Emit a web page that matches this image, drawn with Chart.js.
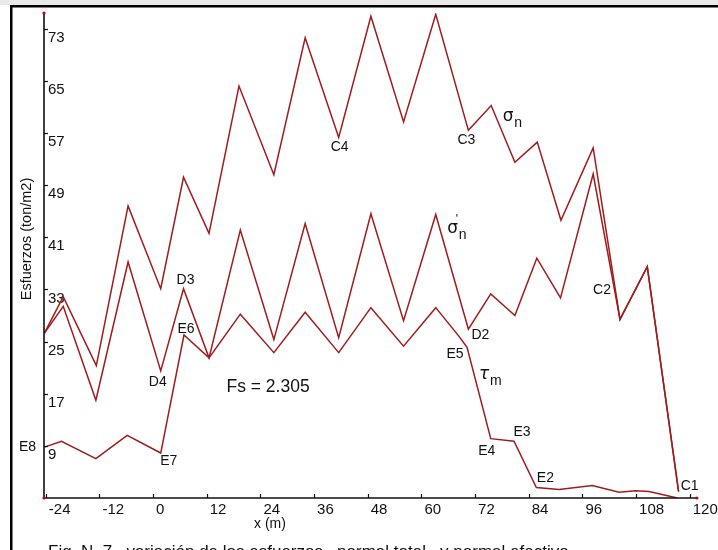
<!DOCTYPE html>
<html><head><meta charset="utf-8">
<script src="https://cdn.jsdelivr.net/npm/chart.js@4.4.1/dist/chart.umd.min.js"></script>
<style>html,body{margin:0;padding:0;background:#fff;overflow:hidden}canvas{display:block}</style>
</head><body>
<canvas id="c" width="718" height="550"></canvas>
<script>
// ---- data ----
const xTicks = [-24, -12, 0, 12, 24, 36, 48, 60, 72, 84, 96, 108, 120];
const yTicks = [9, 17, 25, 33, 41, 49, 57, 65, 73];

const sigmaNX = [-24.3, -20.1, -12.7, -5.6, 1.7, 6.8, 12.5, 19.2, 27.0, 34.0, 41.5, 48.7, 56.0, 63.2, 70.5, 75.6, 80.9, 85.9, 91.2, 98.4, 104.4, 110.5, 117.5];
const sigmaNY = [26.3, 31.9, 21.3, 45.8, 33.1, 50.2, 41.6, 64.2, 50.6, 71.6, 56.3, 74.9, 58.7, 75.2, 57.4, 61.2, 52.5, 55.6, 43.6, 54.7, 28.4, 36.5, 2.0];

const sigmaEX = [-24.3, -20.1, -12.8, -5.6, 1.7, 6.8, 12.5, 19.5, 27.0, 34.0, 41.5, 48.7, 56.0, 63.2, 70.5, 75.5, 80.9, 85.8, 91.1, 98.4, 104.4, 110.5, 117.5];
const sigmaEY = [26.3, 30.4, 16.0, 37.2, 20.5, 33.1, 22.5, 42.1, 25.3, 43.1, 25.6, 44.6, 28.2, 44.5, 26.9, 32.3, 29.0, 37.8, 31.7, 50.7, 28.4, 36.5, 2.0];

const tauX = [-24.3, -20.5, -12.8, -5.8, 1.7, 6.9, 12.5, 19.5, 27.0, 34.0, 41.5, 48.7, 56.0, 63.2, 68.4, 70.2, 75.5, 80.7, 85.7, 90.8, 98.2, 104.2, 107.9, 110.9, 117.2];
const tauY = [8.8, 9.7, 7.05, 10.6, 7.9, 26.0, 22.5, 29.2, 23.3, 29.5, 23.3, 30.2, 24.3, 30.2, 25.8, 24.1, 10.1, 9.7, 2.6, 2.3, 2.9, 1.9, 2.1, 2.0, 1.0];

const pointNames = ['C4', 'C3', 'C2', 'C1', 'D2', 'D3', 'D4', 'E2', 'E3', 'E4', 'E5', 'E6', 'E7', 'E8'];
const fsText = 'Fs = 2.305';
const caption = 'Fig. N. 7   variación de los esfuerzos   normal total   y normal efectivo';

// ---- styling / placement ----
const RED = '#a01c1c';
const FONT = '"Liberation Sans", Arial, sans-serif';
// label anchors: series index, point index, pixel offset
const labelAnchors = {
  C4: [0, 10, 1, 10], C3: [0, 14, -2, 10], C2: [0, 20, -18, -29], C1: [0, 22, 11, -5],
  D2: [1, 14, 12, 6], D3: [1, 5, 2, -9], D4: [1, 4, -3, 11],
  E2: [2, 18, 9, -9], E3: [2, 17, 8, -9], E4: [2, 16, -4, 12], E5: [2, 15, -12, 7],
  E6: [2, 5, 2, -6], E7: [2, 4, 8, 8], E8: [2, 0, -17, 0]
};

function pts(xs, ys) { return xs.map((x, i) => ({ x: x, y: ys[i] })); }
function ds(xs, ys) {
  return { data: pts(xs, ys), showLine: true, borderColor: RED, borderWidth: 1.5, pointRadius: 0, tension: 0, fill: false };
}

const decor = {
  id: 'decor',
  beforeDraw(chart) {
    const c = chart.ctx;
    c.save();
    c.fillStyle = '#fff'; c.fillRect(0, 0, 718, 550);
    c.fillStyle = '#e9e9e9'; c.fillRect(0, 0, 718, 5);
    c.fillStyle = '#000';
    c.fillRect(10, 5, 708, 2.5);
    c.fillRect(10, 5, 2.5, 545);
    c.restore();
  },
  afterDatasetsDraw(chart) {
    const c = chart.ctx, xs = chart.scales.x, ys = chart.scales.y, a = chart.chartArea;
    c.save();
    // axes
    c.strokeStyle = '#111'; c.lineWidth = 1.6;
    c.beginPath(); c.moveTo(a.left, a.top); c.lineTo(a.left, a.bottom); c.lineTo(a.right, a.bottom); c.stroke();
    c.lineWidth = 1.2;
    xs.ticks.forEach(t => { const px = Math.round(xs.getPixelForValue(t.value)) + 0.5; c.beginPath(); c.moveTo(px, a.bottom); c.lineTo(px, a.bottom - 4); c.stroke(); });
    ys.ticks.forEach(t => { const py = Math.round(ys.getPixelForValue(t.value)) + 0.5; c.beginPath(); c.moveTo(a.left, py); c.lineTo(a.left + 4, py); c.stroke(); });
    c.fillStyle = '#c00';
    [[a.left, a.top], [a.left, a.bottom], [a.right, a.bottom]].forEach(p => { c.beginPath(); c.arc(p[0], p[1], 1.6, 0, Math.PI * 2); c.fill(); });
    // point labels
    c.fillStyle = '#111'; c.textAlign = 'center'; c.textBaseline = 'middle';
    c.font = '14px ' + FONT;
    pointNames.forEach(n => {
      const an = labelAnchors[n];
      const el = chart.getDatasetMeta(an[0]).data[an[1]];
      c.fillText(n, el.x + an[2], el.y + an[3]);
    });
    // series labels
    function sub(main, s, si, pi, dx, dy, prime, italic) {
      const el = chart.getDatasetMeta(si).data[pi];
      const x = el.x + dx, y = el.y + dy;
      c.font = (italic ? 'italic ' : '') + '17px "DejaVu Sans", ' + FONT;
      c.textAlign = 'center';
      c.fillText(main, x, y);
      c.font = '14px ' + FONT;
      c.textAlign = 'left';
      c.fillText(s, x + 6, y + 7);
      if (prime) { c.font = '12px ' + FONT; c.fillText("'", x + 3, y - 9); }
    }
    sub('σ', 'n', 0, 15, 17, 11, false, false);
    sub('σ', 'n', 1, 13, 17, 14, true, false);
    sub('τ', 'm', 2, 15, 17, 27, false, true);
    // Fs
    c.font = '17.5px ' + FONT; c.textAlign = 'left'; c.textBaseline = 'middle';
    c.fillText(fsText, xs.getPixelForValue(16.4), ys.getPixelForValue(18.0));
    // axis titles
    c.font = '14px ' + FONT; c.textAlign = 'center';
    c.fillText('x (m)', 270, 524);
    c.save(); c.translate(27, 239); c.rotate(-Math.PI / 2);
    c.font = '14.5px ' + FONT; c.fillText('Esfuerzos (ton/m2)', 0, 0); c.restore();
    // caption (cut off at bottom)
    c.font = '17px ' + FONT; c.textAlign = 'left'; c.textBaseline = 'alphabetic';
    c.fillText(caption, 48, 557);
    c.restore();
  }
};

new Chart(document.getElementById('c'), {
  type: 'scatter',
  data: { datasets: [ds(sigmaNX, sigmaNY), ds(sigmaEX, sigmaEY), ds(tauX, tauY)] },
  options: {
    responsive: false, animation: false, devicePixelRatio: 1,
    layout: { padding: { top: 10, right: 20, left: 0, bottom: 0 } },
    plugins: { legend: { display: false }, tooltip: { enabled: false } },
    scales: {
      x: {
        type: 'linear', min: -24.4, max: 121.6,
        afterBuildTicks: s => { s.ticks = xTicks.map(v => ({ value: v })); },
        afterFit: s => { s.height = 52; },
        grid: { display: false, drawTicks: false }, border: { display: false },
        ticks: { align: 'start', padding: 3, labelOffset: 3, autoSkip: false, maxRotation: 0, color: '#111', font: { family: FONT, size: 15 } }
      },
      y: {
        type: 'linear', min: 1, max: 75.4,
        afterBuildTicks: s => { s.ticks = yTicks.map(v => ({ value: v })); },
        afterFit: s => { s.width = 44; },
        grid: { display: false, drawTicks: false }, border: { display: false },
        ticks: { mirror: true, padding: 4, labelOffset: 9, color: '#111', font: { family: FONT, size: 15 } }
      }
    }
  },
  plugins: [decor]
});
</script>
</body></html>
